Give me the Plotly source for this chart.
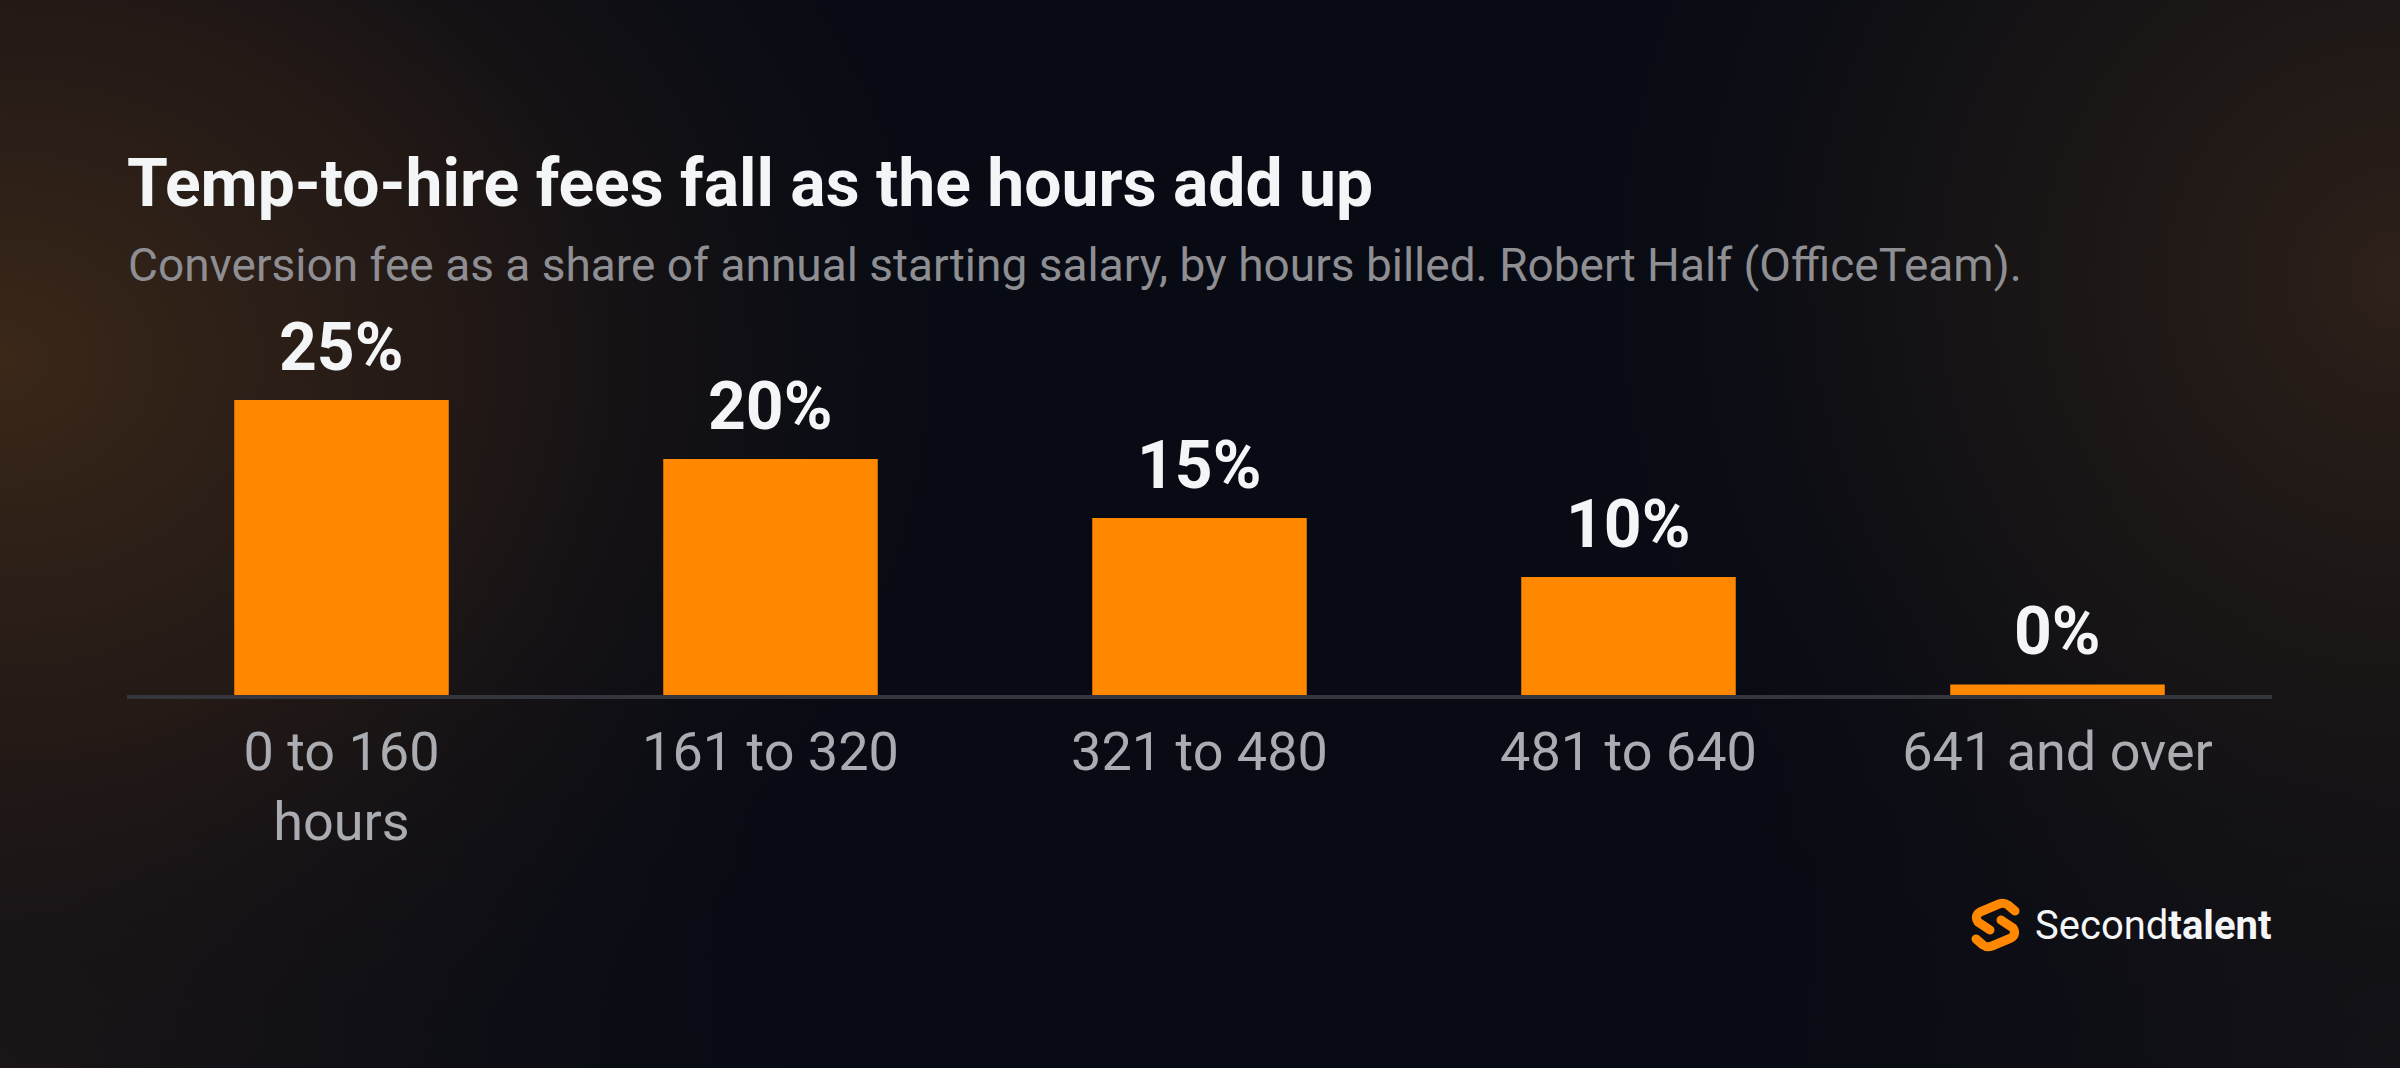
import plotly.graph_objects as go
import urllib.parse

# ---- data ----
categories = ["0 to 160<br>hours", "161 to 320", "321 to 480", "481 to 640", "641 and over"]
fee_pct = [25, 20, 15, 10, 0]
value_labels = ["25%", "20%", "15%", "10%", "0%"]

MIN_VISIBLE = 0.9  # tiny stub so a 0% bar is still visible

W, H = 2400, 1068
L, R, T, B = 127, 128, 341, 373
PW, PH = W - L - R, H - T - B

def px_x(X):
    return (X - L) / PW

def px_y(Y):
    return (H - B - Y) / PH

shown = [max(v, MIN_VISIBLE) for v in fee_pct]

ORANGE = "#FF8800"
FONT = "Roboto"

bg_svg = f"""<svg xmlns='http://www.w3.org/2000/svg' width='{W}' height='{H}' viewBox='0 0 {W} {H}'>
<defs>
<radialGradient id='a' cx='0' cy='360' r='1050' gradientUnits='userSpaceOnUse' gradientTransform='translate(0 360) scale(1 0.8) translate(0 -360)'>
<stop offset='0' stop-color='#3b2819'/><stop offset='0.45' stop-color='#2a1d16' stop-opacity='0.75'/><stop offset='1' stop-color='#0a0c14' stop-opacity='0'/></radialGradient>
<radialGradient id='b' cx='2400' cy='280' r='900' gradientUnits='userSpaceOnUse'>
<stop offset='0' stop-color='#2e2119'/><stop offset='0.5' stop-color='#1f1916' stop-opacity='0.6'/><stop offset='1' stop-color='#0a0c14' stop-opacity='0'/></radialGradient>
<radialGradient id='c' cx='0' cy='1068' r='800' gradientUnits='userSpaceOnUse'>
<stop offset='0' stop-color='#1c1718'/><stop offset='1' stop-color='#121116' stop-opacity='0'/></radialGradient>
<radialGradient id='d' cx='2400' cy='1068' r='700' gradientUnits='userSpaceOnUse'>
<stop offset='0' stop-color='#151318'/><stop offset='1' stop-color='#0f0f14' stop-opacity='0'/></radialGradient>
</defs>
<rect width='{W}' height='{H}' fill='#080b14'/>
<rect width='{W}' height='{H}' fill='url(#c)'/>
<rect width='{W}' height='{H}' fill='url(#d)'/>
<rect width='{W}' height='{H}' fill='url(#a)'/>
<rect width='{W}' height='{H}' fill='url(#b)'/>
<g transform='translate(1971 900)' fill='none' stroke='{ORANGE}' stroke-width='9' stroke-linecap='round' stroke-linejoin='round'>
<path d='M44 11 L37 5 Q33 2 28 4 L9 12 Q3 16 7 22 L19 30'/>
<path d='M5 39 L12 45 Q16 48 21 46 L40 38 Q46 34 42 28 L30 20'/>
</g>
</svg>"""
bg_uri = "data:image/svg+xml;charset=utf-8," + urllib.parse.quote(bg_svg)

fig = go.Figure()
fig.add_trace(go.Bar(
    x=categories, y=shown,
    marker=dict(color=ORANGE, line=dict(width=0)),
    width=0.5, hoverinfo="skip",
))

annotations = []
for c, v, lab in zip(categories, shown, value_labels):
    annotations.append(dict(
        x=c, y=v, xref="x", yref="y", text=lab, showarrow=False,
        yanchor="bottom", yshift=12,
        font=dict(family=FONT, size=66, color="#F4F5F7", weight="bold"),
    ))

annotations += [
    dict(x=px_x(125), y=px_y(184), xref="paper", yref="paper", xanchor="left", yanchor="middle",
         text="<b>Temp-to-hire fees fall as the hours add up</b>", showarrow=False,
         font=dict(family=FONT, size=66, color="#F4F5F7")),
    dict(x=px_x(126), y=px_y(265), xref="paper", yref="paper", xanchor="left", yanchor="middle",
         text="Conversion fee as a share of annual starting salary, by hours billed. Robert Half (OfficeTeam).",
         showarrow=False, font=dict(family=FONT, size=46, color="#8E8E93")),
    dict(x=px_x(2273), y=px_y(925), xref="paper", yref="paper", xanchor="right", yanchor="middle",
         text="Second<b>talent</b>", showarrow=False,
         font=dict(family=FONT, size=40, color="#F4F5F7")),
]

fig.update_layout(
    width=W, height=H,
    margin=dict(l=L, r=R, t=T, b=B, pad=0),
    paper_bgcolor="#080b14", plot_bgcolor="rgba(0,0,0,0)",
    showlegend=False,
    annotations=annotations,
    images=[dict(source=bg_uri, xref="paper", yref="paper",
                 x=px_x(0), y=px_y(0), sizex=W / PW, sizey=H / PH,
                 xanchor="left", yanchor="top", sizing="stretch", layer="below")],
    xaxis=dict(
        type="category", range=[-0.5, len(categories) - 0.5],
        showgrid=False, zeroline=False,
        showline=True, linecolor="#35363D", linewidth=4,
        ticks="outside", ticklen=6, tickcolor="rgba(0,0,0,0)",
        tickfont=dict(family=FONT, size=54, color="#ABACB1"),
        fixedrange=True,
    ),
    yaxis=dict(range=[0, 30], visible=False, showgrid=False, zeroline=False, fixedrange=True),
    bargap=0.5,
)

fig.write_html(
    "out.html",
    config={"displayModeBar": False},
    post_script="document.body.style.margin='0';document.body.style.overflow='hidden';",
)
